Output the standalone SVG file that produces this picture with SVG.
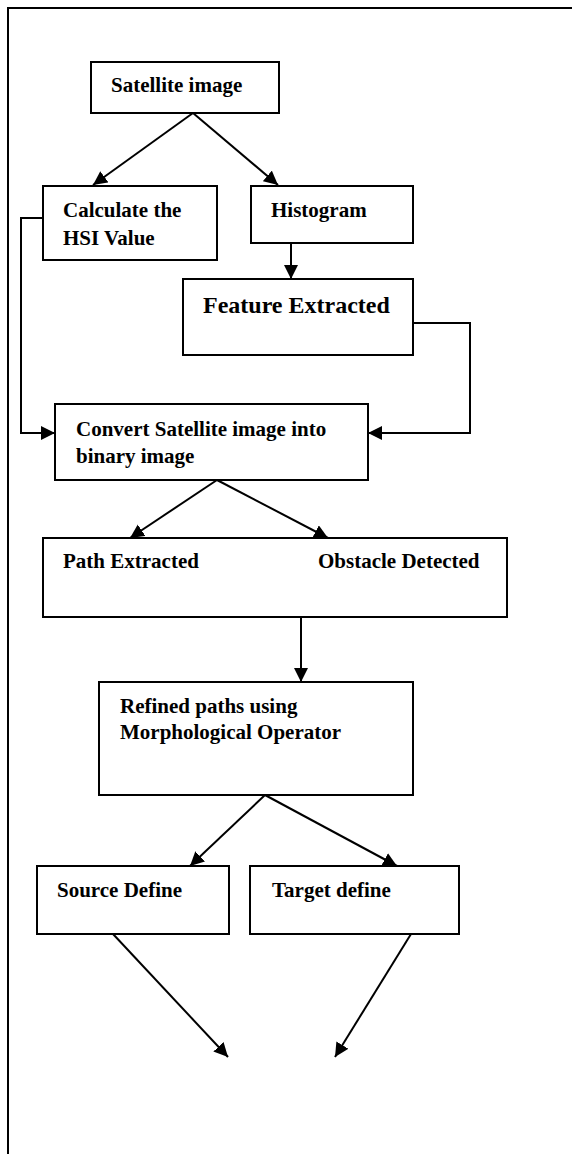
<svg xmlns="http://www.w3.org/2000/svg" width="572" height="1154" viewBox="0 0 572 1154">
<style>
rect{fill:#fff;stroke:#000;stroke-width:2}
.c{fill:none;stroke:#000;stroke-width:2}
text{font-family:"Liberation Serif","Times New Roman",serif;font-weight:bold;font-size:21px;fill:#000}
.big{font-size:24px}
</style>
<defs>
<marker id="ah" markerUnits="userSpaceOnUse" markerWidth="15" markerHeight="15" refX="14" refY="7" orient="auto">
<path d="M0,0 L14,7 L0,14 z" fill="#000"/>
</marker>
</defs>
<rect width="572" height="1154" style="fill:#fff;stroke:none"/>
<path class="c" d="M8,1154 V8 H572"/>
<g id="connectors">
<path class="c" d="M193,113 L93,185" marker-end="url(#ah)"/>
<path class="c" d="M193,113 L278,185" marker-end="url(#ah)"/>
<path class="c" d="M291,243 V279" marker-end="url(#ah)"/>
<path class="c" d="M43,218 H21 V433 H55" marker-end="url(#ah)"/>
<path class="c" d="M413,323 H470 V433 H368" marker-end="url(#ah)"/>
<path class="c" d="M217,480 L130,538" marker-end="url(#ah)"/>
<path class="c" d="M217,480 L328,538" marker-end="url(#ah)"/>
<path class="c" d="M301,617 V682" marker-end="url(#ah)"/>
<path class="c" d="M265,795 L190,866" marker-end="url(#ah)"/>
<path class="c" d="M265,795 L397,866" marker-end="url(#ah)"/>
<path class="c" d="M113,934 L228,1057" marker-end="url(#ah)"/>
<path class="c" d="M411,934 L335,1057" marker-end="url(#ah)"/>
</g>
<g id="satellite"><rect x="91" y="62" width="188" height="51"/><text x="111" y="92">Satellite image</text></g>
<g id="hsi"><rect x="43" y="186" width="174" height="74"/><text x="63" y="217">Calculate the</text><text x="63" y="245">HSI Value</text></g>
<g id="histogram"><rect x="251" y="186" width="162" height="57"/><text x="271" y="217">Histogram</text></g>
<g id="feature"><rect x="183" y="279" width="230" height="76"/><text class="big" x="203" y="313">Feature Extracted</text></g>
<g id="convert"><rect x="55" y="404" width="313" height="76"/><text x="76" y="436">Convert Satellite image into</text><text x="76" y="463">binary image</text></g>
<g id="pathobs"><rect x="43" y="538" width="464" height="79"/><text x="63" y="568">Path Extracted</text><text x="318" y="568">Obstacle Detected</text></g>
<g id="refined"><rect x="99" y="682" width="314" height="113"/><text x="120" y="713">Refined paths using</text><text x="120" y="739">Morphological Operator</text></g>
<g id="source"><rect x="37" y="866" width="192" height="68"/><text x="57" y="897">Source Define</text></g>
<g id="target"><rect x="250" y="866" width="209" height="68"/><text x="272" y="897">Target define</text></g>
</svg>
